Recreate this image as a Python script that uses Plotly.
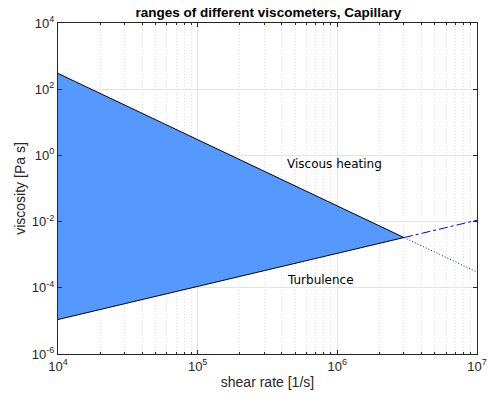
import math
import plotly.graph_objects as go

# data
tri_x = [1e4, 3e6, 1e4]
tri_y = [300, 3.3e-3, 1.1e-5]
ext_x = [3e6, 1e7]
turb_ext_y = [3.3e-3, 1.1e-2]
heat_ext_y = [3.3e-3, 3.0e-4]
labels = ["Viscous heating", "Turbulence"]
label_x = [4.2e5, 4.2e5]
label_y = [0.55, 1.7e-4]
x_tickvals = [1e4, 1e5, 1e6, 1e7]
x_ticktext = ["10<sup>4</sup>", "10<sup>5</sup>", "10<sup>6</sup>", "10<sup>7</sup>"]
y_tickvals = [1e-6, 1e-4, 1e-2, 1e0, 1e2, 1e4]
y_ticktext = ["10<sup>-6</sup>", "10<sup>-4</sup>", "10<sup>-2</sup>", "10<sup>0</sup>",
              "10<sup>2</sup>", "10<sup>4</sup>"]
x_minor = [k * 10 ** e for e in (4, 5, 6) for k in range(2, 10)]

fig = go.Figure()
fig.add_trace(go.Scatter(x=tri_x, y=tri_y, fill="toself", mode="lines",
                         fillcolor="rgb(85,153,255)",
                         line=dict(color="black", width=1), showlegend=False,
                         hoverinfo="skip"))
fig.add_trace(go.Scatter(x=ext_x, y=turb_ext_y, mode="lines",
                         line=dict(color="blue", width=1, dash="dashdot"),
                         showlegend=False))
fig.add_trace(go.Scatter(x=ext_x, y=heat_ext_y, mode="lines",
                         line=dict(color="blue", width=1, dash="1px,2px"),
                         showlegend=False))
for t, x, y in zip(labels, label_x, label_y):
    # annotations on log axes take log10 coordinates
    fig.add_annotation(x=math.log10(x), y=math.log10(y), xref="x", yref="y", text=t,
                       showarrow=False, xanchor="left", yanchor="middle",
                       font=dict(family="DejaVu Sans", size=12, color="black"))

axis_common = dict(showline=True, linecolor="#262626", linewidth=1, mirror="allticks",
                   ticks="inside", ticklen=4, tickcolor="#262626",
                   showgrid=True, gridcolor="#e3e3e3", gridwidth=1, automargin=False,
                   zeroline=False, tickfont=dict(size=13, color="#262626"))

fig.update_xaxes(type="log", range=[4, 7], tickmode="array", tickvals=x_tickvals,
                 ticktext=x_ticktext,
                 minor=dict(tickmode="array", tickvals=x_minor, ticks="inside", ticklen=2,
                            tickcolor="#262626", showgrid=True, gridcolor="#e0e0e0",
                            griddash="1px,2px", gridwidth=1),
                 title=dict(text="shear rate [1/s]", font=dict(size=14, color="#262626"),
                            standoff=4),
                 **axis_common)
fig.update_yaxes(type="log", range=[-6, 4], tickmode="array", tickvals=y_tickvals,
                 ticktext=y_ticktext,
                 title=dict(text="viscosity [Pa s]", font=dict(size=14, color="#262626"),
                            standoff=2),
                 **axis_common)

fig.update_layout(
    width=488, height=403,
    margin=dict(l=58, r=11, t=23, b=49),
    paper_bgcolor="white", plot_bgcolor="white",
    font=dict(family="Liberation Sans, Arial, sans-serif", color="#262626"),
    title=dict(text="<b>ranges of different viscometers, Capillary</b>",
               x=0.55, xanchor="center", y=1 - 12 / 403, yanchor="middle",
               font=dict(size=13.5, color="black")),
)
fig.write_html("out.html")
